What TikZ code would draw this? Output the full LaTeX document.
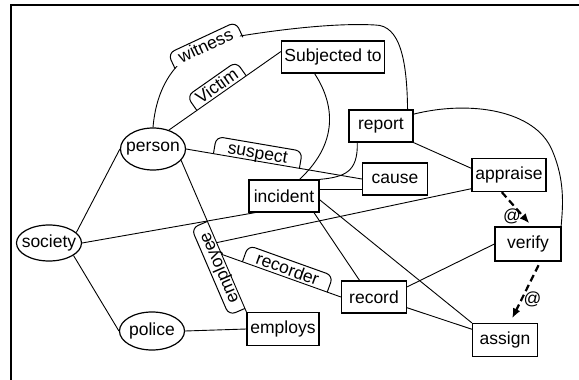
\documentclass[tikz,border=0pt]{standalone}
\usepackage{fontspec}
\setmainfont{Liberation Sans}
\usetikzlibrary{shapes.geometric,arrows.meta}
\begin{document}
\begin{tikzpicture}[x=1pt,y=-1pt,
  font=\fontsize{17.5}{20}\selectfont,
  box/.style={draw, line width=1.2pt, minimum height=32pt, inner xsep=2pt, inner ysep=0pt},
  ell/.style={draw, ellipse, line width=1.2pt, inner sep=0pt, minimum width=65pt},
  edge/.style={line width=0.9pt},
  tablbl/.style={inner xsep=8pt, inner ysep=2pt, text height=12.5pt, text depth=0pt, anchor=south},
  tab/.style={line width=1pt, rounded corners=7pt},
  dep/.style={line width=2.2pt, dash pattern=on 7pt off 4pt, -{Latex[length=10pt,width=8pt]}},
  atlbl/.style={inner sep=1pt}
]
\useasboundingbox (0,0) rectangle (579,380);
% frame
\draw[line width=1.2pt] (11,380) -- (11,5) -- (579,5);

% concept nodes
\node[ell, minimum height=42pt] (person) at (153,149) {\makebox[0pt]{person}};
\node[ell, minimum height=36pt] (society) at (49,243) {\makebox[0pt]{society}};
\node[ell, minimum height=38pt] (police) at (152,331) {\makebox[0pt]{police}};

\node[box, minimum width=103pt] (subj) at (333,57) {Subjected to};
\node[box, minimum width=64pt] (report) at (381,126) {report};
\node[box, minimum width=65pt] (cause) at (395,179) {cause};
\node[box, minimum width=74pt, minimum height=33pt] (appraise) at (509,175) {appraise};
\node[box, minimum width=70pt] (incident) at (284,196) {incident};
\node[box, minimum width=66pt, minimum height=34pt] (verify) at (528,244) {verify};
\node[box, minimum width=65pt] (record) at (374,297) {record};
\node[box, minimum width=72pt, minimum height=33pt] (employs) at (283,329) {employs};
\node[box, minimum width=65pt, minimum height=33pt] (assign) at (505,340) {assign};

% society edges
\draw[edge] (society.21) -- (person.west);
\draw[edge] (society.-27) -- (police.west);
\draw[edge] (society.east) -- (incident.210);
\draw[edge] (police.east) -- (employs.west);

% person edges
\draw[edge] (person.50) -- node[tablbl, sloped, pos=0.47, inner xsep=6pt] (victim) {Victim} (subj.174);
\draw[tab] (victim.south west) -- (victim.north west) -- (victim.north east) -- (victim.south east);

\draw[edge] (person.north) .. controls (157,80) and (182,44) .. (240,36)
  .. controls (290,28) and (340,23) .. (375,25)
  .. controls (400,25) and (407,60) .. (report.32);
\node[tablbl, fill=white, rounded corners=7pt, rotate=25] (witness) at (209,53) {witness};
\draw[tab] (witness.south west) -- (witness.north west) -- (witness.north east) -- (witness.south east);

\draw[edge] (person.east) -- node[tablbl, sloped, pos=0.4, inner xsep=13pt] (suspect) {suspect} (cause.west);
\draw[tab] (suspect.south west) -- (suspect.north west) -- (suspect.north east) -- (suspect.south east);

\draw[edge] (employs.north west) -- coordinate[pos=0.38] (e2) coordinate[pos=0.457] (e1)
  node[tablbl, sloped, allow upside down, pos=0.31, inner xsep=9pt] (employee) {employee} (person.-22);
\draw[tab] (employee.south west) -- (employee.north west) -- (employee.north east) -- (employee.south east);

\draw[edge] (e1) -- (appraise.200);
\draw[edge] (e2) -- node[tablbl, sloped, pos=0.53, inner xsep=12pt] (recorder) {recorder} (record.west);
\draw[tab] (recorder.south west) -- (recorder.north west) -- (recorder.north east) -- (recorder.south east);

% incident edges
\draw[edge] (subj.222) .. controls (332,100) and (342,140) .. (incident.47);
\draw[edge] (report.215) .. controls (358,172) and (345,177) .. (incident.north east);
\draw[edge] (incident.10) -- (incident.10 -| cause.west);
\draw[edge] (incident.-29) -- (record.131);
\draw[edge] (incident.-6.5) -- (assign.north west);

% report edges
\draw[edge] (report.south east) -- (appraise.170);
\draw[edge] (report.20) .. controls (470,100) and (535,110) .. (552,150)
  .. controls (565,180) and (563,205) .. (verify.28);

% record edges
\draw[edge] (record.17) -- (verify.west);
\draw[edge] (record.-18) -- (assign.162);

% dependency arrows
\draw[dep, shorten >=4pt] (appraise.247) -- node[atlbl, pos=0.7, anchor=east] (at1) {@} (verify.77);
\draw[dep, shorten <=4pt, shorten >=5pt] (verify.-55) -- node[atlbl, pos=0.62, anchor=west] (at2) {@} (assign.74);
\end{tikzpicture}
\end{document}
